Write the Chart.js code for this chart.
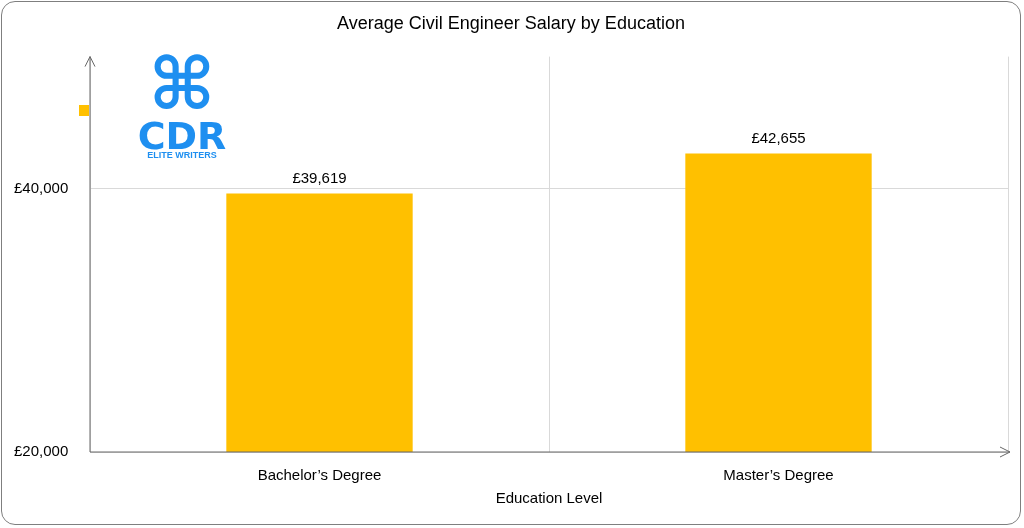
<!DOCTYPE html>
<html><head><meta charset="utf-8">
<script src="https://cdn.jsdelivr.net/npm/chart.js@4"></script>
<style>html,body{margin:0;padding:0;background:#fff}#wrap{position:absolute;left:1px;top:1px;width:1020px;height:524px;border:1px solid #7f7f7f;border-radius:14px;box-sizing:border-box;overflow:hidden}</style>
</head><body><div id="wrap"><canvas id="c" width="1020" height="524"></canvas></div>
<script>
const categories = ["Bachelor’s Degree", "Master’s Degree"];
const salaries = [39619, 42655];
const tickValues = [20000, 40000];
const F = "Liberation Sans, Arial, sans-serif";
const fmt = v => "£" + v.toLocaleString("en-GB");
const deco = {
  id: "deco",
  afterDraw(ch) {
    const c = ch.ctx, a = ch.chartArea;
    c.save();
    c.strokeStyle = "#666"; c.lineWidth = 1;
    c.beginPath(); c.moveTo(a.left, a.bottom); c.lineTo(a.left, a.top);
    c.moveTo(a.left - 5, a.top + 10); c.lineTo(a.left, a.top); c.lineTo(a.left + 5, a.top + 10);
    c.moveTo(a.left, a.bottom); c.lineTo(a.right + 2, a.bottom);
    c.moveTo(a.right - 8, a.bottom - 5); c.lineTo(a.right + 2, a.bottom); c.lineTo(a.right - 8, a.bottom + 5);
    c.stroke();
    c.fillStyle = "#000"; c.font = "15px " + F; c.textAlign = "center"; c.textBaseline = "bottom";
    const m = ch.getDatasetMeta(0);
    m.data.forEach((b, i) => c.fillText(fmt(salaries[i]), b.x, b.y - 7));
    c.fillStyle = "#FFC000"; c.fillRect(77, 103, 10, 11);
    c.fillStyle = "#1E8FF0"; c.textAlign = "center";
    c.font = "bold 72px DejaVu Sans"; c.textBaseline = "middle"; c.fillText("⌘", 180, 88);
    c.font = "bold 38px DejaVu Sans"; c.fillText("CDR", 180, 137);
    c.font = "bold 9px " + F; c.fillText("ELITE WRITERS", 180, 154);
    c.restore();
  }
};
new Chart(document.getElementById("c"), {
  type: "bar",
  data: { labels: categories, datasets: [{ data: salaries, backgroundColor: "#FFC000", barPercentage: 0.406, categoryPercentage: 1 }] },
  options: {
    responsive: false, animation: false,
    layout: { padding: { left: 12, right: 14, top: 0, bottom: 14 } },
    plugins: { legend: { display: false }, tooltip: { enabled: false },
      title: { display: true, text: "Average Civil Engineer Salary by Education", color: "#000", font: { family: F, size: 18, weight: "normal" }, padding: { top: 11, bottom: 22 } } },
    scales: {
      x: { grid: { offset: true, color: "#d9d9d9", drawTicks: false }, border: { display: false },
        ticks: { color: "#000", font: { family: F, size: 15 }, padding: 15 },
        title: { display: true, text: "Education Level", color: "#000", font: { family: F, size: 15 }, padding: { top: -10 } } },
      y: { min: 20000, max: 50000, afterBuildTicks: s => { s.ticks = tickValues.map(v => ({ value: v })); },
        afterFit: s => { s.width = 76; },
        grid: { color: "#d9d9d9", drawTicks: false }, border: { display: false },
        ticks: { color: "#000", font: { family: F, size: 15 }, padding: 12, crossAlign: "far", callback: v => fmt(v) } }
    }
  },
  plugins: [deco]
});
</script></body></html>
